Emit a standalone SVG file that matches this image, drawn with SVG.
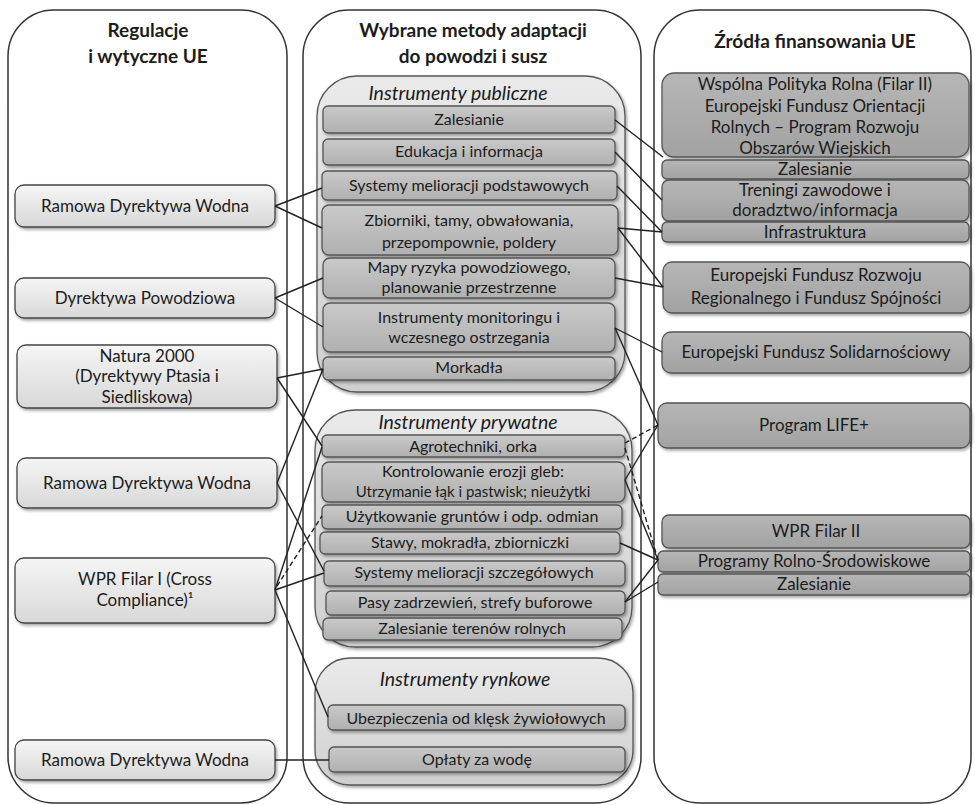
<svg xmlns="http://www.w3.org/2000/svg" width="975" height="805" viewBox="0 0 975 805">
<defs>
<linearGradient id="gL" x1="0" y1="0" x2="0" y2="1"><stop offset="0" stop-color="#f5f5f5"/><stop offset="1" stop-color="#d8d8d8"/></linearGradient>
<linearGradient id="gG" x1="0" y1="0" x2="0" y2="1"><stop offset="0" stop-color="#eaeaea"/><stop offset="1" stop-color="#cfcfcf"/></linearGradient>
<linearGradient id="gM" x1="0" y1="0" x2="0" y2="1"><stop offset="0" stop-color="#c9c9c9"/><stop offset="1" stop-color="#b0b0b0"/></linearGradient>
<linearGradient id="gR" x1="0" y1="0" x2="0" y2="1"><stop offset="0" stop-color="#b6b6b6"/><stop offset="1" stop-color="#a2a2a2"/></linearGradient>
<filter id="sh" x="-10%" y="-20%" width="120%" height="150%"><feDropShadow dx="1.5" dy="2" stdDeviation="1.5" flood-color="#000" flood-opacity="0.35"/></filter>
</defs>
<style>
.col{fill:#fff;stroke:#333;stroke-width:1.5}
.ln{fill:url(#gL);stroke:#444;stroke-width:1.3;filter:url(#sh)}
.grp{fill:url(#gG);stroke:#555;stroke-width:1.3;filter:url(#sh)}
.mn{fill:url(#gM);stroke:#555;stroke-width:1.3;filter:url(#sh)}
.rn{fill:url(#gR);stroke:#555;stroke-width:1.3;filter:url(#sh)}
text{font-family:Lato,"Open Sans","Liberation Sans",sans-serif;font-size:16px;fill:#1c1c1c;text-anchor:middle}
.s17 text{font-size:17px}
.h{font-weight:bold;font-size:19px}
.it{font-style:italic;font-size:19.5px}
.c line{stroke:#222;stroke-width:1.4}
.c .d{stroke-dasharray:5 3}
</style>
<g id="columns">
<rect class="col" x="8" y="10" width="279" height="793" rx="46"/>
<rect class="col" x="303" y="10" width="338" height="793" rx="46"/>
<rect class="col" x="654" y="10" width="317" height="793" rx="46"/>
<text class="h" x="148" y="37">Regulacje</text>
<text class="h" x="148" y="63">i wytyczne UE</text>
<text class="h" x="473" y="37">Wybrane metody adaptacji</text>
<text class="h" x="473" y="63">do powodzi i susz</text>
<text class="h" x="815" y="48">Źródła finansowania UE</text>
</g>
<g id="left-nodes" class="s17">
<g id="l-rdw1"><rect class="ln" x="15" y="185" width="260" height="42" rx="9"/><text x="145" y="212">Ramowa Dyrektywa Wodna</text></g>
<g id="l-dp"><rect class="ln" x="15" y="278" width="260" height="40" rx="9"/><text x="145" y="304">Dyrektywa Powodziowa</text></g>
<g id="l-natura"><rect class="ln" x="17" y="345" width="260" height="63" rx="9"/><text x="147" y="362">Natura 2000</text><text x="147" y="382">(Dyrektywy Ptasia i</text><text x="147" y="403">Siedliskowa)</text></g>
<g id="l-rdw2"><rect class="ln" x="17" y="458" width="260" height="50" rx="9"/><text x="147" y="489">Ramowa Dyrektywa Wodna</text></g>
<g id="l-wpr1"><rect class="ln" x="15" y="558" width="260" height="65" rx="9"/><text x="145" y="585">WPR Filar I (Cross</text><text x="145" y="606">Compliance)¹</text></g>
<g id="l-rdw3"><rect class="ln" x="15" y="740" width="260" height="40" rx="9"/><text x="145" y="766">Ramowa Dyrektywa Wodna</text></g>
</g>
<g id="g-publiczne">
<rect class="grp" x="317" y="76" width="308" height="316" rx="40"/>
<text class="it" x="458" y="100">Instrumenty publiczne</text>
<g id="m-zal"><rect class="mn" x="323" y="106" width="292" height="27" rx="5"/><text x="469" y="125">Zalesianie</text></g>
<g id="m-edu"><rect class="mn" x="323" y="139" width="292" height="26" rx="5"/><text x="469" y="157">Edukacja i informacja</text></g>
<g id="m-sys"><rect class="mn" x="322" y="171" width="295" height="29" rx="5"/><text x="469" y="191">Systemy melioracji podstawowych</text></g>
<g id="m-zbi"><rect class="mn" x="322" y="205" width="296" height="50" rx="7"/><text x="469" y="226">Zbiorniki, tamy, obwałowania,</text><text x="469" y="248">przepompownie, poldery</text></g>
<g id="m-map"><rect class="mn" x="323" y="258" width="292" height="40" rx="7"/><text x="469" y="273">Mapy ryzyka powodziowego,</text><text x="469" y="293">planowanie przestrzenne</text></g>
<g id="m-mon"><rect class="mn" x="323" y="303" width="292" height="49" rx="7"/><text x="469" y="323">Instrumenty monitoringu i</text><text x="469" y="343">wczesnego ostrzegania</text></g>
<g id="m-mor"><rect class="mn" x="323" y="357" width="292" height="23" rx="5"/><text x="469" y="373">Morkadła</text></g>
</g>
<g id="g-prywatne">
<rect class="grp" x="315" y="410" width="317" height="237" rx="40"/>
<text class="it" x="468" y="429">Instrumenty prywatne</text>
<g id="m-agr"><rect class="mn" x="322" y="435" width="303" height="22" rx="5"/><text x="473" y="452">Agrotechniki, orka</text></g>
<g id="m-kon"><rect class="mn" x="322" y="462" width="303" height="40" rx="7"/><text x="473" y="477">Kontrolowanie erozji gleb:</text><text x="473" y="497" style="font-size:15px">Utrzymanie łąk i pastwisk; nieużytki</text></g>
<g id="m-uzy"><rect class="mn" x="322" y="505" width="300" height="24" rx="5"/><text x="472" y="522">Użytkowanie gruntów i odp. odmian</text></g>
<g id="m-sta"><rect class="mn" x="320" y="532" width="300" height="22" rx="5"/><text x="470" y="548">Stawy, mokradła, zbiorniczki</text></g>
<g id="m-sze"><rect class="mn" x="324" y="561" width="301" height="25" rx="5"/><text x="474" y="578">Systemy melioracji szczegółowych</text></g>
<g id="m-pas"><rect class="mn" x="326" y="591" width="299" height="24" rx="5"/><text x="475" y="608">Pasy zadrzewień, strefy buforowe</text></g>
<g id="m-zter"><rect class="mn" x="323" y="618" width="299" height="22" rx="5"/><text x="472" y="634">Zalesianie terenów rolnych</text></g>
</g>
<g id="g-rynkowe">
<rect class="grp" x="315" y="658" width="318" height="127" rx="35"/>
<text class="it" x="465" y="686">Instrumenty rynkowe</text>
<g id="m-ube"><rect class="mn" x="328" y="705" width="297" height="25" rx="5"/><text x="476" y="724">Ubezpieczenia od klęsk żywiołowych</text></g>
<g id="m-opl"><rect class="mn" x="329" y="747" width="296" height="25" rx="5"/><text x="477" y="765">Opłaty za wodę</text></g>
</g>
<g id="right-nodes" class="s17">
<g id="r-wpr2a"><rect class="rn" x="662" y="73" width="307" height="84" rx="12"/><text x="815" y="90">Wspólna Polityka Rolna (Filar II)</text><text x="815" y="112">Europejski Fundusz Orientacji</text><text x="815" y="133">Rolnych – Program Rozwoju</text><text x="815" y="154">Obszarów Wiejskich</text></g>
<g id="r-zal1"><rect class="rn" x="662" y="160" width="307" height="19" rx="5"/><text x="815" y="175">Zalesianie</text></g>
<g id="r-tre"><rect class="rn" x="662" y="180" width="307" height="41" rx="7"/><text x="815" y="196">Treningi zawodowe i</text><text x="815" y="216">doradztwo/informacja</text></g>
<g id="r-inf"><rect class="rn" x="662" y="222" width="307" height="20" rx="5"/><text x="815" y="238">Infrastruktura</text></g>
<g id="r-efrr"><rect class="rn" x="663" y="262" width="307" height="51" rx="9"/><text x="816" y="281">Europejski Fundusz Rozwoju</text><text x="816" y="304">Regionalnego i Fundusz Spójności</text></g>
<g id="r-efs"><rect class="rn" x="662" y="332" width="308" height="41" rx="9"/><text x="816" y="358">Europejski Fundusz Solidarnościowy</text></g>
<g id="r-life"><rect class="rn" x="658" y="403" width="312" height="45" rx="9"/><text x="814" y="431">Program LIFE+</text></g>
<g id="r-wpr2"><rect class="rn" x="662" y="515" width="308" height="33" rx="7"/><text x="816" y="537">WPR Filar II</text></g>
<g id="r-prs"><rect class="rn" x="658" y="551" width="312" height="21" rx="5"/><text x="814" y="567">Programy Rolno-Środowiskowe</text></g>
<g id="r-zal2"><rect class="rn" x="658" y="574" width="312" height="21" rx="5"/><text x="814" y="590">Zalesianie</text></g>
</g>
<g id="connectors" class="c">
<line x1="275" y1="206" x2="322" y2="188"/>
<line x1="275" y1="206" x2="322" y2="228"/>
<line x1="275" y1="298" x2="323" y2="278"/>
<line x1="275" y1="298" x2="323" y2="327"/>
<line x1="277" y1="378" x2="323" y2="369"/>
<line x1="277" y1="378" x2="322" y2="446"/>
<line x1="277" y1="483" x2="323" y2="369"/>
<line x1="277" y1="483" x2="324" y2="571"/>
<line x1="275" y1="590" x2="322" y2="447"/>
<line class="d" x1="277" y1="586" x2="322" y2="516"/>
<line x1="275" y1="590" x2="324" y2="573"/>
<line x1="275" y1="590" x2="328" y2="717"/>
<line x1="275" y1="760" x2="329" y2="760"/>
<line x1="615" y1="120" x2="663" y2="157"/>
<line x1="615" y1="152" x2="662" y2="200"/>
<line x1="617" y1="186" x2="662" y2="232"/>
<line x1="618" y1="228" x2="662" y2="232"/>
<line x1="618" y1="228" x2="663" y2="287"/>
<line x1="615" y1="278" x2="663" y2="287"/>
<line x1="615" y1="328" x2="662" y2="352"/>
<line x1="615" y1="328" x2="658" y2="425"/>
<line class="d" x1="625" y1="443" x2="658" y2="425"/>
<line x1="625" y1="480" x2="658" y2="425"/>
<line class="d" x1="625" y1="448" x2="658" y2="560"/>
<line x1="625" y1="480" x2="658" y2="560"/>
<line x1="620" y1="543" x2="658" y2="560"/>
<line x1="625" y1="602" x2="658" y2="560"/>
<line x1="625" y1="602" x2="658" y2="582"/>
</g>
</svg>
